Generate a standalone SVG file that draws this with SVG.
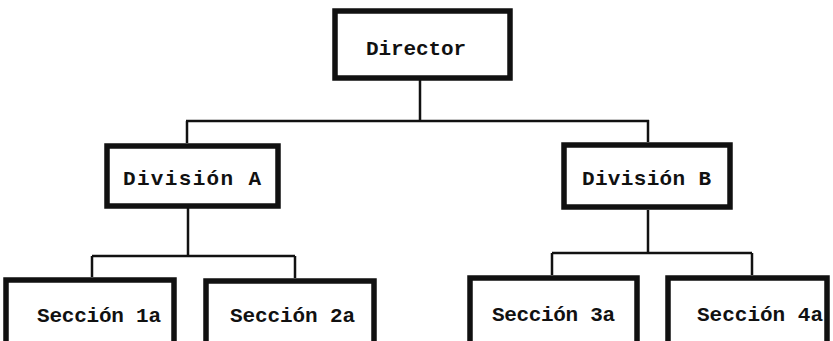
<svg xmlns="http://www.w3.org/2000/svg" width="833" height="341" viewBox="0 0 833 341">
<style>
.box{fill:#fff;stroke:#111;stroke-width:5.5}
.lbl{font-family:"Liberation Mono","DejaVu Sans Mono",monospace;font-weight:bold;font-size:21px;fill:#111}
.con{fill:none;stroke:#111;stroke-width:2.5}
</style>
<rect width="833" height="341" fill="#fff"/>
<g id="connectors">
<path class="con" d="M420 80 V120 M186 121 H649 M187 121 V143 M648 120 V142"/>
<path class="con" d="M188 208 V256 M92 256 H295 M92 256 V277 M295 256 V278"/>
<path class="con" d="M648 210 V253 M552 253 H752 M552 253 V275 M752 253 V275"/>
</g>
<g id="director">
<rect class="box" x="335" y="11" width="175" height="67"/>
<text class="lbl" x="366" y="55" textLength="100" lengthAdjust="spacing">Director</text>
</g>
<g id="division-a">
<rect class="box" x="107" y="146" width="171" height="60"/>
<text class="lbl" x="123" y="185" textLength="138" lengthAdjust="spacing">División A</text>
</g>
<g id="division-b">
<rect class="box" x="564" y="145" width="166" height="62"/>
<text class="lbl" x="582" y="185" textLength="129" lengthAdjust="spacing">División B</text>
</g>
<g id="seccion-1a">
<rect class="box" x="6" y="280" width="168" height="70"/>
<text class="lbl" x="37" y="322" textLength="124" lengthAdjust="spacing">Sección 1a</text>
</g>
<g id="seccion-2a">
<rect class="box" x="206" y="281" width="168" height="70"/>
<text class="lbl" x="230" y="322" textLength="125" lengthAdjust="spacing">Sección 2a</text>
</g>
<g id="seccion-3a">
<rect class="box" x="470" y="278" width="167" height="70"/>
<text class="lbl" x="492" y="321" textLength="123" lengthAdjust="spacing">Sección 3a</text>
</g>
<g id="seccion-4a">
<rect class="box" x="668" y="278" width="159" height="70"/>
<text class="lbl" x="697" y="321" textLength="126" lengthAdjust="spacing">Sección 4a</text>
</g>
</svg>
